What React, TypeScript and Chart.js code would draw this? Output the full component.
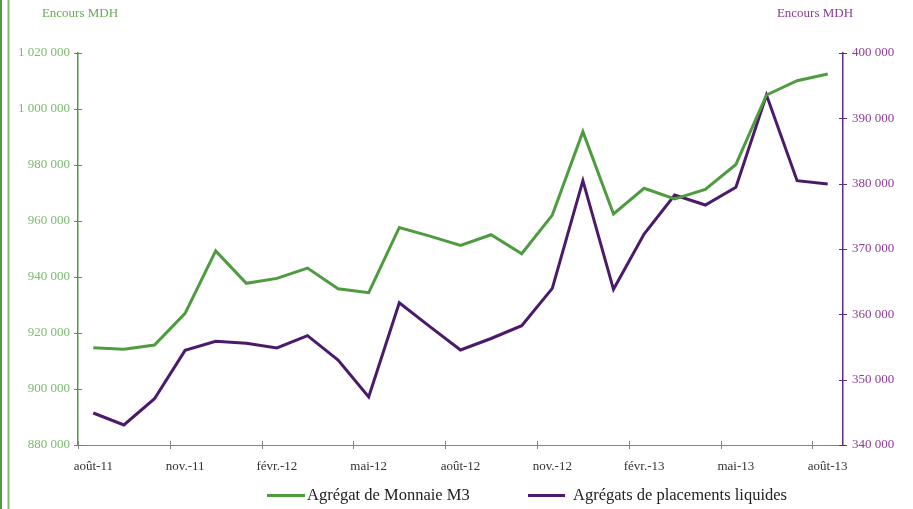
import React, { useEffect, useRef } from "react";
import { Chart, registerables } from "chart.js";

Chart.register(...registerables);

const categories = [
  "août-11", "sept.-11", "oct.-11", "nov.-11", "déc.-11", "janv.-12", "févr.-12",
  "mars-12", "avr.-12", "mai-12", "juin-12", "juil.-12", "août-12", "sept.-12",
  "oct.-12", "nov.-12", "déc.-12", "janv.-13", "févr.-13", "mars-13", "avr.-13",
  "mai-13", "juin-13", "juil.-13", "août-13",
];

const monnaieM3 = [
  914750, 914200, 915700, 927000, 949300, 937750, 939500, 943200, 935800, 934400,
  957700, 954600, 951300, 955100, 948300, 962100, 991900, 962500, 971700, 967900,
  971300, 980200, 1005000, 1010100, 1012500,
];

const placementsLiquides = [
  344900, 343060, 347090, 354490, 355870, 355560, 354850, 356730, 353010, 347350,
  361780, 358110, 354540, 356300, 358260, 363980, 380460, 363830, 372300, 378270,
  376730, 379440, 393570, 380460, 379950,
];

const leftTicks = { min: 880000, max: 1020000, step: 20000 };
const rightTicks = { min: 340000, max: 400000, step: 10000 };

const seriesNames = ["Agrégat de Monnaie M3", "Agrégats de placements liquides"];
const axisTitle = "Encours MDH";

const GREEN = "#4f9b40";
const GREEN_LABEL = "#7dba6e";
const GREEN_TITLE = "#66a956";
const PURPLE = "#4b1a6b";
const PURPLE_AXIS = "#5e2d84";
const PURPLE_LABEL = "#8e3b98";
const GRAY = "#858585";
const FONT = "'Liberation Serif', 'DejaVu Serif', serif";

const fmt = (v: number) =>
  String(Math.round(v)).replace(/\B(?=(\d{3})+(?!\d))/g, " ");

const decorPlugin = {
  id: "decor",
  afterDraw(chart: any) {
    const ctx = chart.ctx;
    const { left, right, bottom } = chart.chartArea;
    const yl = chart.scales.y;
    const yr = chart.scales.y1;
    ctx.save();
    // page frame lines at far left
    ctx.fillStyle = GREEN;
    ctx.fillRect(0, 0, 2, chart.height);
    ctx.fillStyle = "#7fbd70";
    ctx.fillRect(7.5, 0, 2, chart.height);

    // x tick marks at category boundaries every 3 months
    ctx.strokeStyle = GRAY;
    ctx.lineWidth = 1;
    const n = categories.length;
    const step = (right - left) / n;
    for (let i = 0; i <= n; i += 3) {
      const x = Math.round(left + i * step) + 0.5;
      ctx.beginPath();
      ctx.moveTo(x, bottom - 4);
      ctx.lineTo(x, bottom + 4);
      ctx.stroke();
    }
    // left y ticks
    ctx.strokeStyle = GREEN;
    for (let v = leftTicks.min; v <= leftTicks.max; v += leftTicks.step) {
      const y = Math.round(yl.getPixelForValue(v)) + 0.5;
      ctx.beginPath();
      ctx.moveTo(left - 4, y);
      ctx.lineTo(left + 4, y);
      ctx.stroke();
    }
    // right y ticks
    ctx.strokeStyle = PURPLE_AXIS;
    for (let v = rightTicks.min; v <= rightTicks.max; v += rightTicks.step) {
      const y = Math.round(yr.getPixelForValue(v)) + 0.5;
      ctx.beginPath();
      ctx.moveTo(right - 4, y);
      ctx.lineTo(right + 4, y);
      ctx.stroke();
    }

    // axis titles
    ctx.font = `13px ${FONT}`;
    ctx.textBaseline = "middle";
    ctx.textAlign = "center";
    ctx.fillStyle = GREEN_TITLE;
    ctx.fillText(axisTitle, 80, 14);
    ctx.fillStyle = PURPLE_LABEL;
    ctx.fillText(axisTitle, 815, 14);

    // legend
    ctx.lineWidth = 3;
    ctx.textAlign = "left";
    ctx.font = `16.5px ${FONT}`;
    ctx.fillStyle = "#222";
    ctx.strokeStyle = GREEN;
    ctx.beginPath();
    ctx.moveTo(267, 495.5);
    ctx.lineTo(305, 495.5);
    ctx.stroke();
    ctx.fillText(seriesNames[0], 307, 496);
    ctx.strokeStyle = PURPLE;
    ctx.beginPath();
    ctx.moveTo(528, 495.5);
    ctx.lineTo(565, 495.5);
    ctx.stroke();
    ctx.fillText(seriesNames[1], 573, 496);
    ctx.restore();
  },
};

export default function App() {
  const ref = useRef<HTMLCanvasElement>(null);

  useEffect(() => {
    if (!ref.current) return;
    const chart = new Chart(ref.current, {
      type: "line",
      data: {
        labels: categories,
        datasets: [
          {
            label: seriesNames[0],
            data: monnaieM3,
            borderColor: GREEN,
            backgroundColor: GREEN,
            borderWidth: 3,
            pointRadius: 0,
            tension: 0,
            yAxisID: "y",
          },
          {
            label: seriesNames[1],
            data: placementsLiquides,
            borderColor: PURPLE,
            backgroundColor: PURPLE,
            borderWidth: 3,
            pointRadius: 0,
            tension: 0,
            yAxisID: "y1",
          },
        ],
      },
      options: {
        responsive: false,
        animation: false,
        layout: { padding: { top: 53, left: 0, right: 0, bottom: 0 } },
        plugins: { legend: { display: false }, tooltip: { enabled: false } },
        scales: {
          x: {
            type: "category",
            offset: true,
            grid: { display: false, offset: true, drawTicks: false },
            border: { display: true, color: GRAY, width: 1 },
            ticks: {
              autoSkip: false,
              maxRotation: 0,
              padding: 14,
              color: "#333",
              font: { family: FONT, size: 13 },
              callback: (_v: any, i: number) => (i % 3 === 0 ? categories[i] : ""),
            },
            afterFit: (s: any) => {
              s.height = 64;
            },
          },
          y: {
            position: "left",
            min: leftTicks.min,
            max: leftTicks.max,
            grid: { display: false, drawTicks: false },
            border: { display: true, color: GREEN, width: 1.5 },
            ticks: {
              stepSize: leftTicks.step,
              padding: 8,
              color: GREEN_LABEL,
              font: { family: FONT, size: 13 },
              callback: (v: any) => fmt(Number(v)),
            },
            afterFit: (s: any) => {
              s.width = 78;
            },
          },
          y1: {
            position: "right",
            min: rightTicks.min,
            max: rightTicks.max,
            grid: { display: false, drawTicks: false },
            border: { display: true, color: PURPLE_AXIS, width: 1.5 },
            ticks: {
              stepSize: rightTicks.step,
              padding: 9,
              color: PURPLE_LABEL,
              font: { family: FONT, size: 13 },
              callback: (v: any) => fmt(Number(v)),
            },
            afterFit: (s: any) => {
              s.width = 70;
            },
          },
        },
      },
      plugins: [decorPlugin],
    });
    return () => chart.destroy();
  }, []);

  return (
    <div style={{ position: "fixed", left: 0, top: 0, width: 913, height: 509, background: "#fff" }}>
      <canvas ref={ref} width={913} height={509} style={{ display: "block" }} />
    </div>
  );
}
